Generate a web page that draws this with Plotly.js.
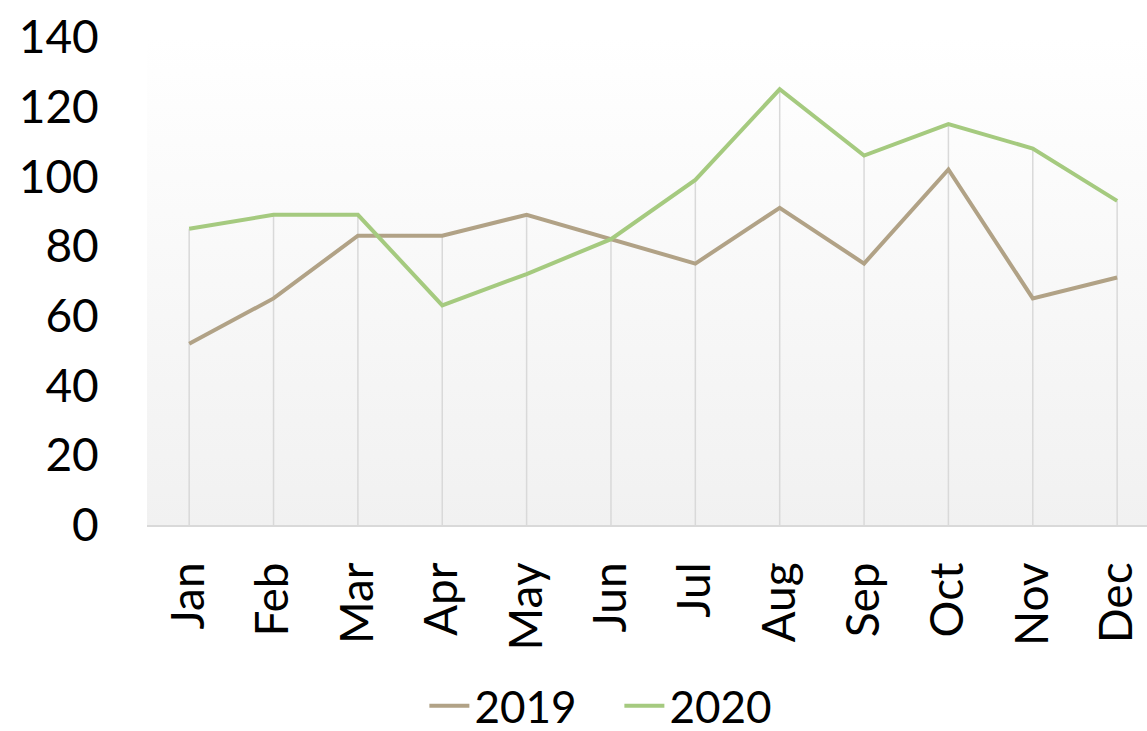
<!DOCTYPE html>
<html>
<head>
<meta charset="utf-8">
<script src="https://cdn.plot.ly/plotly-3.0.1.min.js"></script>
<style>html,body{margin:0;padding:0;background:#fff;}#chart{width:1147px;height:731px;}</style>
</head>
<body>
<div id="chart"></div>
<script>
const months = ["Jan","Feb","Mar","Apr","May","Jun","Jul","Aug","Sep","Oct","Nov","Dec"];
const values2019 = [52,65,83,83,89,82,75,91,75,102,65,71];
const values2020 = [85,89,89,63,72,82,99,125,106,115,108,93];
const seriesNames = ["2019","2020"];
const yTicks = [0,20,40,60,80,100,120,140];

// drop lines from the highest point in each month down to the axis
const dropX = [], dropY = [];
months.forEach((m, i) => {
  dropX.push(m, m, null);
  dropY.push(0, Math.max(values2019[i], values2020[i]), null);
});

const gradSvg = '<svg xmlns="http://www.w3.org/2000/svg" width="10" height="100" preserveAspectRatio="none">' +
  '<defs><linearGradient id="g" x1="0" y1="0" x2="0" y2="1">' +
  '<stop offset="0" stop-color="#ffffff"/><stop offset="1" stop-color="#f1f1f1"/></linearGradient></defs>' +
  '<rect width="10" height="100" fill="url(#g)"/></svg>';
const gradUri = 'data:image/svg+xml;base64,' + btoa(gradSvg);

const traces = [
  {x: dropX, y: dropY, type: 'scatter', mode: 'lines',
   line: {color: '#d9d9d9', width: 1.5}, showlegend: false, hoverinfo: 'skip'},
  {x: months, y: values2019, name: seriesNames[0], type: 'scatter', mode: 'lines',
   line: {color: '#b1a286', width: 4}},
  {x: months, y: values2020, name: seriesNames[1], type: 'scatter', mode: 'lines',
   line: {color: '#a5ca7f', width: 4}}
];

const font = {family: 'Lato, "Open Sans", sans-serif', color: '#000000', size: 46};

const layout = {
  width: 1147, height: 731,
  margin: {l: 147, r: 0, t: 37, b: 206, pad: 0},
  paper_bgcolor: '#ffffff',
  plot_bgcolor: 'rgba(0,0,0,0)',
  font: font,
  showlegend: true,
  legend: {orientation: 'h', xref: 'container', yref: 'container',
           x: 0.54, xanchor: 'center', y: 0.034, yanchor: 'middle',
           font: {family: font.family, color: '#000000', size: 44},
           itemwidth: 40, entrywidth: 140, traceorder: 'normal'},
  xaxis: {type: 'category', categoryarray: months, range: [-0.5, 11.354],
          showgrid: false, zeroline: false, showline: true, linecolor: '#d9d9d9', linewidth: 2,
          tickangle: -90, ticks: 'outside', ticklen: 17, tickcolor: 'rgba(0,0,0,0)',
          tickfont: font, fixedrange: true},
  yaxis: {range: [0, 140], tickvals: yTicks, ticktext: yTicks.map(String),
          showgrid: false, zeroline: false, showline: false,
          ticks: 'outside', ticklen: 38, tickcolor: 'rgba(0,0,0,0)',
          tickfont: font, fixedrange: true},
  images: [{source: gradUri, xref: 'paper', yref: 'paper', x: 0, y: 1,
            sizex: 1, sizey: 1, sizing: 'stretch', xanchor: 'left', yanchor: 'top', layer: 'below'}]
};

Plotly.newPlot('chart', traces, layout, {displayModeBar: false, staticPlot: true});
</script>
</body>
</html>
